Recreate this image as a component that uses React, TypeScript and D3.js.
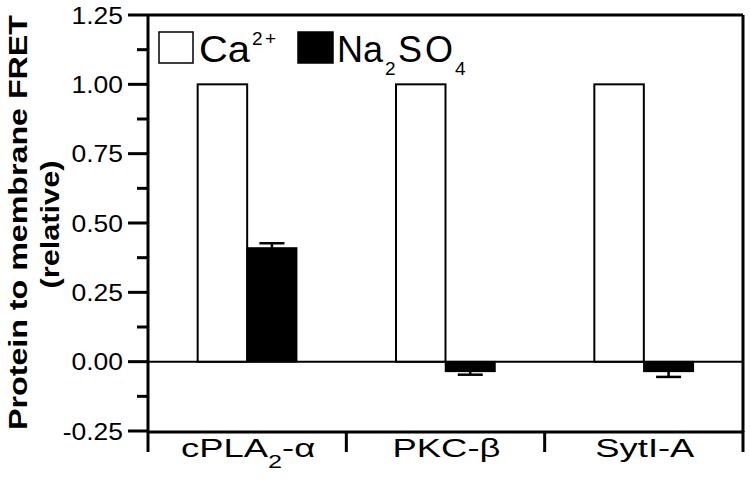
import React, { useEffect, useRef } from "react";
import * as d3 from "d3";

// values
const categories = ["cPLA2-α", "PKC-β", "SytI-A"];
const series = ["Ca2+", "Na2SO4"];
const caValues = [1.0, 1.0, 1.0];
const naValues = [0.41, -0.035, -0.035];
const naErrors = [0.017, 0.012, 0.02];
const majorTicks = [-0.25, 0, 0.25, 0.5, 0.75, 1.0, 1.25];
const minorTicks = [-0.125, 0.125, 0.375, 0.625, 0.875, 1.125];

const FONT = "'Liberation Sans', Arial, Helvetica, sans-serif";

const App = () => {
  const svgRef = useRef(null);

  useEffect(() => {
    const W = 750;
    const H = 491;
    const plot = { left: 148, right: 743, top: 15, bottom: 431 };

    const svg = d3.select(svgRef.current);
    svg.selectAll("*").remove();
    svg.attr("width", W).attr("height", H);

    const y = d3.scaleLinear().domain([-0.25, 1.25]).range([plot.bottom, plot.top]);
    const x = d3.scaleBand().domain(categories).range([plot.left, plot.right]).padding(0);
    const bw = x.bandwidth();
    const xs = d3.scaleBand().domain(series).range([bw / 2 - 49.5, bw / 2 + 49.5]);

    const rows = categories.map((c, i) => ({
      cat: c,
      ca: caValues[i],
      na: naValues[i],
      err: naErrors[i],
    }));

    // zero line
    svg.append("line")
      .attr("x1", plot.left).attr("x2", plot.right)
      .attr("y1", y(0)).attr("y2", y(0))
      .attr("stroke", "#000").attr("stroke-width", 2);

    // white bars
    svg.selectAll(".ca")
      .data(rows)
      .enter()
      .append("rect")
      .attr("x", (d) => x(d.cat) + xs(series[0]))
      .attr("y", (d) => y(Math.max(0, d.ca)))
      .attr("width", xs.bandwidth())
      .attr("height", (d) => Math.abs(y(d.ca) - y(0)))
      .attr("fill", "#fff")
      .attr("stroke", "#000")
      .attr("stroke-width", 2);

    // black bars
    svg.selectAll(".na")
      .data(rows)
      .enter()
      .append("rect")
      .attr("x", (d) => x(d.cat) + xs(series[1]))
      .attr("y", (d) => y(Math.max(0, d.na)))
      .attr("width", xs.bandwidth())
      .attr("height", (d) => Math.abs(y(d.na) - y(0)))
      .attr("fill", "#000")
      .attr("stroke", "#000")
      .attr("stroke-width", 1.5);

    // one-sided error bars
    const eb = svg.append("g").attr("stroke", "#000").attr("stroke-width", 2.5);
    rows.forEach((d) => {
      const cx = x(d.cat) + xs(series[1]) + xs.bandwidth() / 2;
      const tip = d.na >= 0 ? d.na + d.err : d.na - d.err;
      eb.append("line").attr("x1", cx).attr("x2", cx).attr("y1", y(d.na)).attr("y2", y(tip));
      eb.append("line").attr("x1", cx - 12.5).attr("x2", cx + 12.5).attr("y1", y(tip)).attr("y2", y(tip));
    });

    // frame
    const frame = svg.append("g").attr("stroke", "#000").attr("stroke-width", 3).attr("fill", "none");
    frame.append("line").attr("x1", plot.left).attr("x2", plot.right).attr("y1", plot.top).attr("y2", plot.top);
    frame.append("line").attr("x1", plot.left).attr("x2", plot.right).attr("y1", plot.bottom + 1).attr("y2", plot.bottom + 1);
    frame.append("line").attr("x1", plot.left).attr("x2", plot.left).attr("y1", plot.top).attr("y2", plot.bottom + 1);
    frame.append("line").attr("x1", plot.right).attr("x2", plot.right).attr("y1", plot.top).attr("y2", plot.bottom + 1);

    // y ticks
    const yt = svg.append("g").attr("stroke", "#000").attr("stroke-width", 3);
    majorTicks.forEach((t) => {
      yt.append("line").attr("x1", plot.left - 20).attr("x2", plot.left).attr("y1", y(t)).attr("y2", y(t));
    });
    minorTicks.forEach((t) => {
      yt.append("line").attr("x1", plot.left - 11).attr("x2", plot.left).attr("y1", y(t)).attr("y2", y(t));
    });
    const fmt = (v) => d3.format(".2f")(v).replace("−", "-");
    svg.selectAll(".ylab")
      .data(majorTicks)
      .enter()
      .append("text")
      .attr("transform", (d) => `translate(123,${y(d) + 8.5}) scale(1.15,1)`)
      .attr("text-anchor", "end")
      .attr("font-family", FONT)
      .attr("font-size", 23)
      .text((d) => fmt(d));

    // x ticks at category boundaries
    const xt = svg.append("g").attr("stroke", "#000").attr("stroke-width", 3);
    const bounds = categories.map((c) => x(c)).concat([plot.right]);
    bounds.forEach((b) => {
      xt.append("line").attr("x1", b).attr("x2", b).attr("y1", plot.bottom).attr("y2", plot.bottom + 21);
    });

    // category labels, digits drawn as subscripts
    categories.forEach((c) => {
      const t = svg.append("text")
        .attr("transform", `translate(${x(c) + bw / 2 + 1},468) scale(1.4,1)`)
        .attr("text-anchor", "middle")
        .attr("font-family", FONT)
        .attr("font-size", 26);
      c.split(/(\d)/).filter((p) => p.length).forEach((p) => {
        if (/\d/.test(p)) {
          t.append("tspan").attr("font-size", 18).attr("dy", 11).text(p);
        } else {
          t.append("tspan").attr("dy", t.selectAll("tspan").size() ? -11 : 0).text(p);
        }
      });
    });

    // y axis title
    svg.append("text")
      .attr("transform", `translate(27,${(15 + 430) / 2}) rotate(-90)`)
      .attr("text-anchor", "middle")
      .attr("font-family", FONT)
      .attr("font-weight", "bold")
      .attr("font-size", 25.5)
      .attr("textLength", 415)
      .attr("lengthAdjust", "spacingAndGlyphs")
      .text("Protein to membrane FRET");
    svg.append("text")
      .attr("transform", `translate(59,${(15 + 430) / 2 + 2}) rotate(-90)`)
      .attr("text-anchor", "middle")
      .attr("font-family", FONT)
      .attr("font-weight", "bold")
      .attr("font-size", 25.5)
      .attr("textLength", 128)
      .attr("lengthAdjust", "spacingAndGlyphs")
      .text("(relative)");

    // legend
    const lg = svg.append("g").attr("font-family", FONT);
    lg.append("rect").attr("x", 159).attr("y", 32).attr("width", 34).attr("height", 31)
      .attr("fill", "#fff").attr("stroke", "#000").attr("stroke-width", 1.5);
    const caText = lg.append("text").attr("x", 199).attr("y", 62).attr("font-size", 36);
    caText.append("tspan").attr("textLength", 51).attr("lengthAdjust", "spacingAndGlyphs").text("Ca");
    caText.append("tspan").attr("x", 252).attr("y", 45).attr("font-size", 19).attr("textLength", 24).text("2+");

    lg.append("rect").attr("x", 298).attr("y", 32).attr("width", 35).attr("height", 31)
      .attr("fill", "#000").attr("stroke", "#000").attr("stroke-width", 1.5);
    const naText = lg.append("text").attr("y", 62).attr("font-size", 36);
    naText.append("tspan").attr("x", 337).text("Na");
    naText.append("tspan").attr("x", 385).attr("y", 75).attr("font-size", 19).text("2");
    naText.append("tspan").attr("x", 398).attr("y", 62).text("S");
    naText.append("tspan").attr("x", 425).attr("y", 62).text("O");
    naText.append("tspan").attr("x", 455).attr("y", 75).attr("font-size", 19).text("4");
  }, []);

  return (
    <svg
      ref={svgRef}
      style={{ position: "absolute", left: 0, top: 0, background: "#fff" }}
    ></svg>
  );
};

export default App;
